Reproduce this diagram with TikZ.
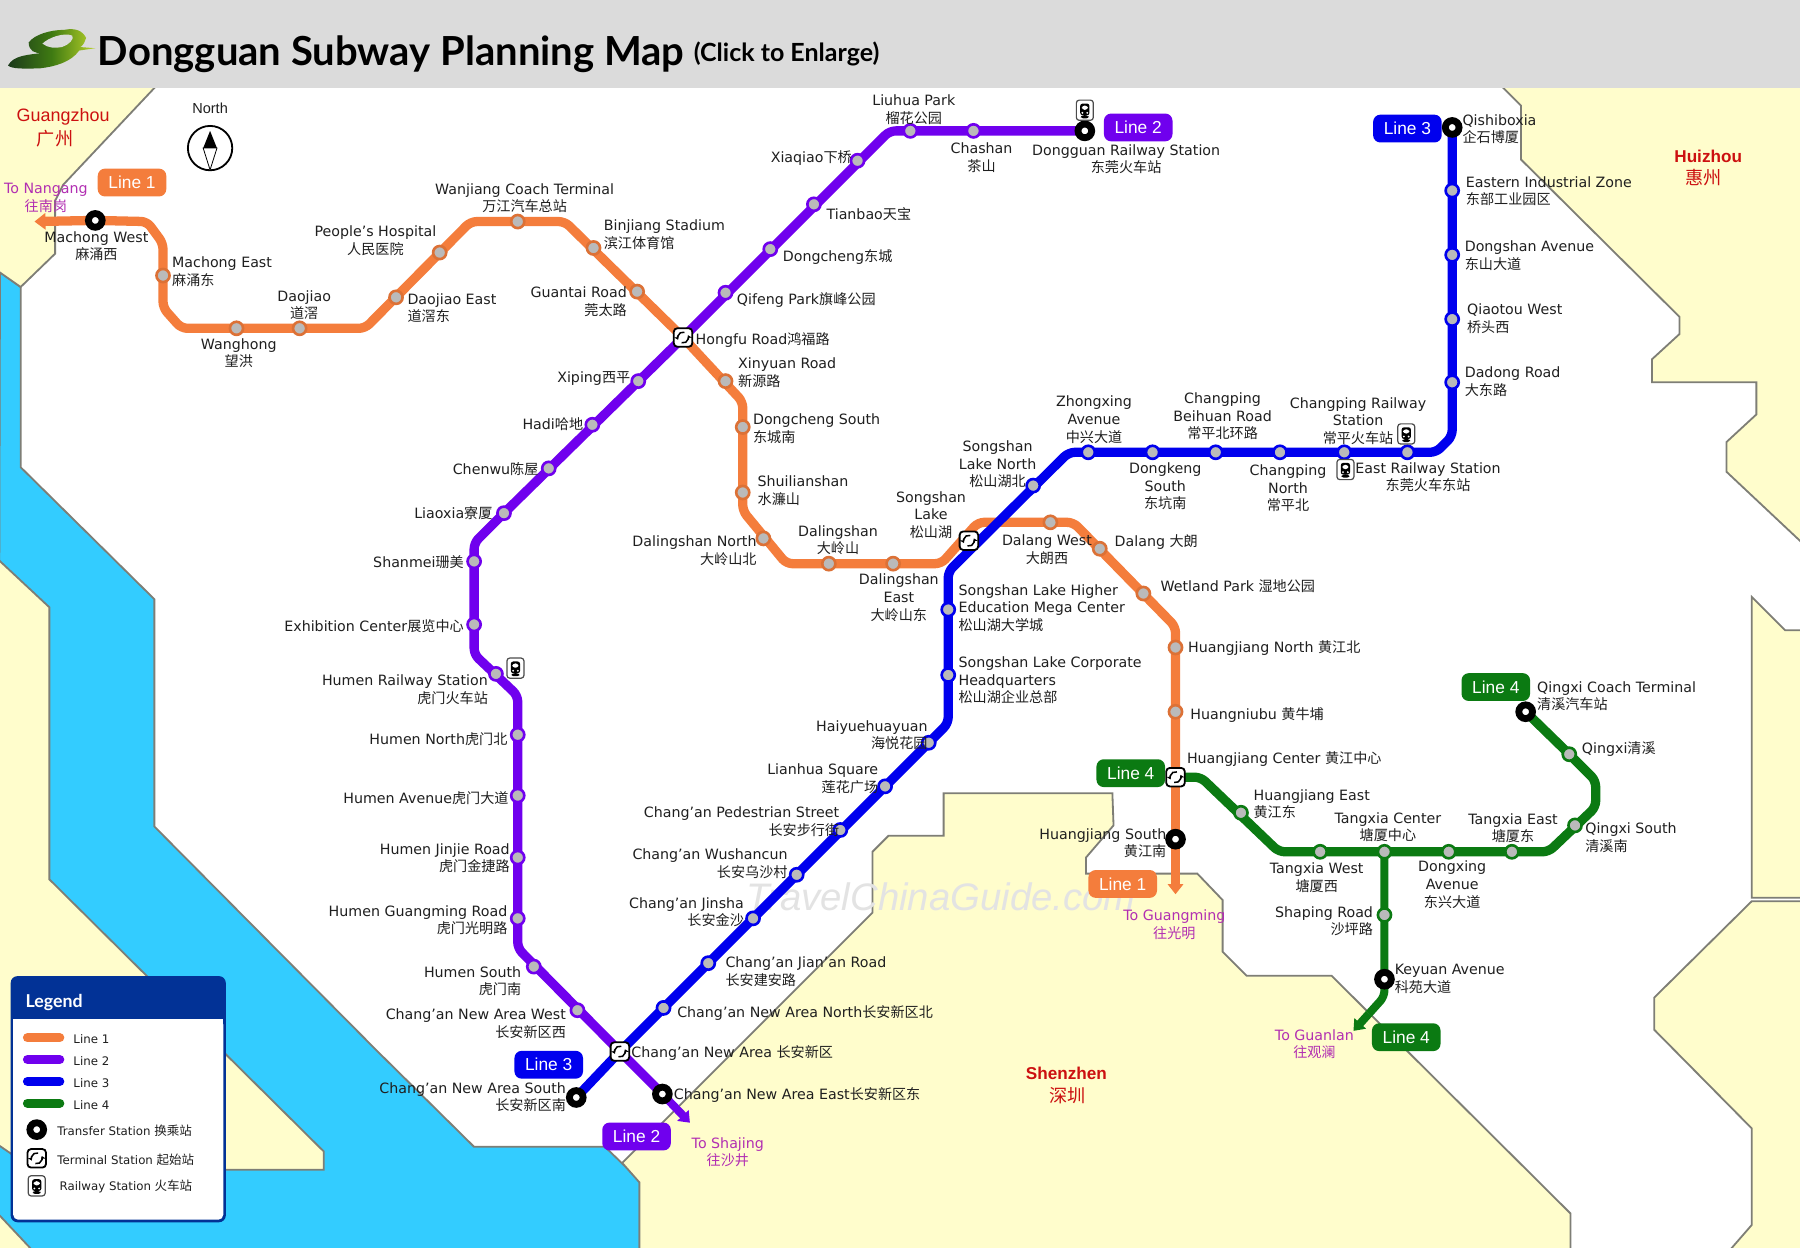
\documentclass[tikz,border=0pt]{standalone}
\usepackage{fontspec}
\setmainfont{DejaVu Sans}
\newfontfamily\cjk{Noto Sans CJK SC}
\newfontfamily\lato{Lato}
\newfontfamily\arial{Liberation Sans}
\usetikzlibrary{arrows.meta,shapes.geometric,calc}
\pgfdeclarelayer{land}
\pgfdeclarelayer{lines}
\pgfsetlayers{land,lines,main}
\newcommand{\zh}[1]{{\cjk\fontsize{7}{8.7}\selectfont #1}}
\definecolor{cOrange}{HTML}{F47D3C}
\definecolor{cPurple}{HTML}{7000EE}
\definecolor{cBlue}{HTML}{0000EE}
\definecolor{cGreen}{HTML}{0B7A12}
\definecolor{cWater}{HTML}{33CCFF}
\definecolor{cLand}{HTML}{FFFDCC}
\definecolor{cEdge}{HTML}{7E7E76}
\definecolor{cPink}{HTML}{B22FB2}
\definecolor{cRed}{HTML}{CC1010}
\definecolor{cNavy}{HTML}{023296}
\definecolor{cLogoA}{HTML}{1B3A1B}
\definecolor{cLogoB}{HTML}{3F7A12}
\definecolor{cLogoC}{HTML}{B8D22A}
\tikzset{
  lb/.style={inner sep=0pt,outer sep=0pt,align=center,yshift=-0.9pt,text=black!88,font=\fontsize{7.05}{8.7}\selectfont},
  ll/.style={lb,anchor=west,align=left},
  lr/.style={lb,anchor=east,align=right},
  pinklb/.style={lb,text=cPink},
  region/.style={inner sep=0pt,align=center,text=cRed,font=\arial\bfseries\fontsize{8.5}{11}\selectfont},
  regionzh/.style={region,font=\cjk\fontsize{9}{11}\selectfont},
  pill/.style={rounded corners=3.6pt,minimum width=34pt,minimum height=13.8pt,inner sep=0pt,text=white,font=\arial\fontsize{8.6}{10}\selectfont},
  land/.style={fill=cLand,draw=cEdge,line width=0.9pt,line join=miter},
  route/.style={line width=4.6pt,rounded corners=3pt,line join=round},
  st/.style={circle,inner sep=0pt,minimum size=6.5pt,fill=black!27,line width=1.3pt},
  sto/.style={st,draw=cOrange!90!black},
  stp/.style={st,draw=cPurple},
  stb/.style={st,draw=cBlue},
  stg/.style={st,draw=cGreen},
  transfer/.style={circle,inner sep=0pt,minimum size=6.8pt,fill=white,draw=black,line width=3.4pt},
  term/.style={rectangle,rounded corners=1.8pt,minimum size=9.2pt,inner sep=0pt,fill=white,draw=black,line width=0.9pt,
    path picture={
      \coordinate (pc) at (path picture bounding box.center);
      \draw[black,line width=0.75pt,-{Stealth[length=2pt,width=2.6pt]}] ([shift={(75:2.7pt)}]pc) arc[start angle=75,end angle=205,radius=2.7pt];
      \draw[black,line width=0.75pt,-{Stealth[length=2pt,width=2.6pt]}] ([shift={(255:2.7pt)}]pc) arc[start angle=255,end angle=385,radius=2.7pt];
    }},
  rail/.style={rectangle,rounded corners=1.4pt,minimum width=8.4pt,minimum height=10pt,inner sep=0pt,fill=white,draw=black!70,line width=0.6pt,
    path picture={
      \coordinate (pc) at (path picture bounding box.center);
      \fill[black,rounded corners=1.2pt] ([shift={(-2.3pt,-2.5pt)}]pc) rectangle ([shift={(2.3pt,3.3pt)}]pc);
      \fill[black] ([shift={(-1.4pt,-2.4pt)}]pc) -- ([shift={(1.4pt,-2.4pt)}]pc) -- ([shift={(2.3pt,-4pt)}]pc) -- ([shift={(-2.3pt,-4pt)}]pc) -- cycle;
      \fill[white] ([shift={(-1.5pt,0.2pt)}]pc) rectangle ([shift={(1.5pt,2.3pt)}]pc);
      \fill[white] ([shift={(-1.2pt,-1.3pt)}]pc) circle (0.5pt);
      \fill[white] ([shift={(1.2pt,-1.3pt)}]pc) circle (0.5pt);
    }},
  legline/.style={line width=4.6pt,line cap=round},
  leglb/.style={lb,anchor=west,yshift=0.4pt,font=\fontsize{5.85}{7}\selectfont},
}
\newcommand{\lzh}[1]{{\cjk\fontsize{6.2}{7}\selectfont #1}}
\begin{document}
\begin{tikzpicture}[x=0.02cm,y=-0.02cm]
\useasboundingbox (0,0) rectangle (1568,1086.3);

% ---------- ground ----------
\begin{pgfonlayer}{land}
\fill[white] (0,0) rectangle (1568,1086.3);
% water
\fill[cWater,draw=cEdge,line width=0.9pt] (0,237) -- (18,250) -- (18,407) -- (134.5,522) -- (134.5,720) -- (328,915) -- (413,999) -- (527,999) -- (557,1028) -- (557,1090) -- (-2,1090) -- cycle;
% Guangzhou
\path[land] (-2,75) -- (136,75) -- (55,161) -- (48,175) -- (48,221) -- (18,250) -- (-2,236) -- cycle;
% west bank
\path[land] (-2,487) -- (43,529) -- (43,766) -- (282,1003) -- (282,1019) -- (30,1019) -- (-2,997) -- cycle;
\path[land] (-2,1057) -- (29,1090) -- (-2,1090) -- cycle;
% Shenzhen
\path[land] (822,691) -- (969,691) -- (970,719) -- (946,747) -- (946,761) -- (1043,761) -- (1065,784) -- (1065,829) -- (1086,850) -- (1160,850) -- (1368,1057) -- (1368,1090) -- (557,1090) -- (557,1030) -- (542,1013) -- (760,795) -- (760,742) -- (774,728) -- (822,728) -- cycle;
% Huizhou
\path[land] (1308,75) -- (1325,92) -- (1325,139) -- (1463,276) -- (1463,291) -- (1439,313) -- (1439,333) -- (1530,333) -- (1530,361) -- (1504,385) -- (1504,411) -- (1570,473) -- (1570,75) -- cycle;
\path[land] (1526,520) -- (1555,549) -- (1570,549) -- (1570,782) -- (1526,782) -- cycle;
\path[land] (1526,785) -- (1570,785) -- (1570,1090) -- (1506,1090) -- (1526,1067) -- (1526,983) -- (1441,897) -- (1441,869) -- cycle;
% title bar
\fill[black!14] (0,0) rectangle (1568,77);
% watermark
\node[inner sep=0pt,text=black!11,font=\arial\itshape\fontsize{19}{20}\selectfont] (mark) at (820,781) {TravelChinaGuide.com};
\end{pgfonlayer}

% ---------- title ----------
\path[left color=cLogoA,right color=cLogoC,middle color=cLogoB]
  (7,57) .. controls (12,48) and (24,48) .. (37,46) .. controls (30,47) and (25,44) .. (25,37) .. controls (30,30) and (44,26) .. (56,26) .. controls (66,24) and (72,27) .. (75,33) .. controls (74,36) and (73,39) .. (70,41) -- (83,42) -- (69,44) .. controls (62,54) and (48,58) .. (35,59.5) .. controls (20,60) and (10,60) .. (7,57) -- cycle;
\fill[black!14] (37,38) .. controls (42,33) and (55,28) .. (63,31) .. controls (65,34) and (60,39) .. (54,41) .. controls (48,42) and (42,42) .. (37,38) -- cycle;
\node[anchor=west,inner sep=0pt,text=black,font=\lato\bfseries\fontsize{19.85}{22}\selectfont] (title) at (85,47) {Dongguan Subway Planning Map};
\node[anchor=west,inner sep=0pt,text=black,font=\lato\fontsize{12.4}{13}\selectfont\bfseries] (subtitle) at (604,47) {(Click to Enlarge)};

% ---------- compass ----------
\node[lb,yshift=0pt,font=\arial\fontsize{7.2}{9}\selectfont] (north) at (183,93) {North};
\node[circle,draw=black,line width=0.9pt,minimum size=22pt,inner sep=0pt] (compass) at (183,129) {};
\fill[black] (183,114) -- (189,129) -- (177,129) -- cycle;
\draw[black,line width=0.4pt,fill=white] (177,129) -- (189,129) -- (183,148) -- cycle;

% ---------- regions ----------
\node[region,font=\arial\fontsize{8.9}{11}\selectfont] (gz) at (55,102) {Guangzhou};
\node[regionzh] (gzz) at (48,121) {广州};
\node[region] (hz) at (1488,136) {Huizhou};
\node[regionzh] (hzz) at (1484,155) {惠州};
\node[region] (sz) at (929,935) {Shenzhen};
\node[regionzh] (szz) at (930,954) {深圳};

% ---------- line 1 stations ----------
\node[transfer] (o1) at (83,192) {};
\node[sto] (o2) at (142,240) {};
\node[sto] (o3) at (206,286) {};
\node[sto] (o4) at (261,286) {};
\node[sto] (o5) at (345,259) {};
\node[sto] (o6) at (383,220) {};
\node[sto] (o7) at (451,193) {};
\node[sto] (o8) at (517,216) {};
\node[sto] (o9) at (555,254) {};
\node[term] (hongfu) at (595,294) {};
\node[sto] (o11) at (632,332) {};
\node[sto] (o12) at (647,372) {};
\node[sto] (o13) at (647,429) {};
\node[sto] (o14) at (665,469) {};
\node[sto] (o15) at (722,491) {};
\node[sto] (o16) at (778,491) {};
\node[term] (songshan) at (844,471) {};
\node[sto] (o18) at (915,455) {};
\node[sto] (o19) at (958,478) {};
\node[sto] (o20) at (996,517) {};
\node[sto] (o21) at (1024,564) {};
\node[sto] (o22) at (1024,620) {};
\node[term] (hjc) at (1024,677) {};
\node[transfer] (o24) at (1024,731) {};
% ---------- line 2 stations ----------
\node[transfer] (p1) at (945,114) {};
\node[stp] (p2) at (848,114) {};
\node[stp] (p3) at (793,114) {};
\node[stp] (p4) at (747,140) {};
\node[stp] (p5) at (709,178) {};
\node[stp] (p6) at (671,217) {};
\node[stp] (p7) at (632,255) {};
\node[stp] (p9) at (556,332) {};
\node[stp] (p10) at (516,370) {};
\node[stp] (p11) at (478,408) {};
\node[stp] (p12) at (439,447) {};
\node[stp] (p13) at (413,489) {};
\node[stp] (p14) at (413,544) {};
\node[stp] (p15) at (432,587) {};
\node[stp] (p16) at (451,640) {};
\node[stp] (p17) at (451,693) {};
\node[stp] (p18) at (451,747) {};
\node[stp] (p19) at (451,800) {};
\node[stp] (p20) at (465,842) {};
\node[stp] (p21) at (503,880) {};
\node[term] (canew) at (540,916) {};
\node[transfer] (p23) at (577,953) {};
% ---------- line 3 stations ----------
\node[transfer] (b1) at (1265,111) {};
\node[stb] (b2) at (1265,166) {};
\node[stb] (b3) at (1265,222) {};
\node[stb] (b4) at (1265,278) {};
\node[stb] (b5) at (1265,333) {};
\node[stb] (b6) at (1226,394) {};
\node[stb] (b7) at (1171,394) {};
\node[stb] (b8) at (1115,394) {};
\node[stb] (b9) at (1059,394) {};
\node[stb] (b10) at (1004,394) {};
\node[stb] (b11) at (948,394) {};
\node[stb] (b12) at (900,423) {};
\node[stb] (b14) at (826,531) {};
\node[stb] (b15) at (826,588) {};
\node[stb] (b16) at (809,647) {};
\node[stb] (b17) at (771,685) {};
\node[stb] (b18) at (732,723) {};
\node[stb] (b19) at (694,762) {};
\node[stb] (b20) at (656,800) {};
\node[stb] (b21) at (617,839) {};
\node[stb] (b22) at (578,878) {};
\node[transfer] (b24) at (502,956) {};
% ---------- line 4 stations ----------
\node[transfer] (g1) at (1329,620) {};
\node[stg] (g2) at (1367,657) {};
\node[stg] (g3) at (1372,719) {};
\node[stg] (g4) at (1317,742) {};
\node[stg] (g5) at (1262,742) {};
\node[stg] (g6) at (1206,742) {};
\node[stg] (g7) at (1150,742) {};
\node[stg] (g8) at (1081,708) {};
\node[stg] (g9) at (1206,797) {};
\node[transfer] (g10) at (1206,853) {};
% ---------- bends and line ends ----------
\coordinate (oEnd) at (30,193);
\coordinate (oB1) at (128,193);
\coordinate (oB2) at (142,212);
\coordinate (oB3) at (142,268);
\coordinate (oB4) at (158,286);
\coordinate (oB5) at (318,286);
\coordinate (oB6) at (410,193);
\coordinate (oB7) at (492,193);
\coordinate (oB8) at (647,350);
\coordinate (oB9) at (647,445);
\coordinate (oB10) at (685,491);
\coordinate (oB11) at (820,491);
\coordinate (oB12) at (852,455);
\coordinate (oB13) at (935,455);
\coordinate (oB14) at (1024,546);
\coordinate (oTip) at (1024,779);
\coordinate (pB1) at (775,114);
\coordinate (pB2) at (413,473);
\coordinate (pB3) at (413,570);
\coordinate (pB4) at (451,606);
\coordinate (pB5) at (451,826);
\coordinate (pTip) at (601,978);
\coordinate (bB1) at (1265,380);
\coordinate (bB2) at (1251,394);
\coordinate (bB3) at (931,394);
\coordinate (bB4) at (826,498);
\coordinate (bB5) at (826,630);
\coordinate (gB1) at (1046,677);
\coordinate (gB2) at (1114,742);
\coordinate (gB3) at (1349,742);
\coordinate (gB4) at (1390,703);
\coordinate (gB5) at (1390,680);
\coordinate (gB6) at (1206,868);
\coordinate (gTip) at (1179,898);

\begin{pgfonlayer}{lines}
\draw[route,cOrange,-{Triangle[length=5.5pt,width=8pt]}] (o1.center) -- (oEnd);
\draw[route,cOrange] (o1.center) -- (oB1) -- (oB2) -- (oB3) -- (oB4) -- (oB5) -- (oB6) -- (oB7) -- (hongfu.center) -- (oB8) -- (oB9) -- (oB10) -- (oB11) -- (oB12) -- (oB13) -- (oB14) -- (hjc.center);
\draw[line width=4pt,cOrange,-{Triangle[length=5pt,width=7.5pt]}] (hjc.center) -- (oTip);
\draw[route,cPurple] (p1.center) -- (pB1) -- (hongfu.center) -- (p12.center) -- (pB2) -- (pB3) -- (pB4) -- (pB5) -- (canew.center) -- (p23.center);
\draw[line width=4pt,cPurple,-{Triangle[length=5pt,width=7.5pt]}] (p23.center) -- (pTip);
\draw[route,cBlue] (b1.center) -- (bB1) -- (bB2) -- (bB3) -- (bB4) -- (bB5) -- (canew.center) -- (b24.center);
\draw[route,cGreen] (hjc.center) -- (gB1) -- (gB2) -- (gB3) -- (gB4) -- (gB5) -- (g2.center) -- (g1.center);
\draw[line width=4pt,cGreen,rounded corners=3pt] (g6.center) -- (gB6) -- ($(gB6)!0.5!(gTip)$);
\draw[line width=4pt,cGreen,-{Triangle[length=5pt,width=7.5pt]}] ($(gB6)!0.5!(gTip)$) -- (gTip);
\end{pgfonlayer}

% ---------- railway icons ----------
\node[rail] (r1) at (945,96) {};
\node[rail] (r2) at (449,582) {};
\node[rail] (r3) at (1225,378) {};
\node[rail] (r4) at (1172,409) {};

% ---------- line tags ----------
\node[pill,fill=cOrange] (t1a) at (115,159) {Line 1};
\node[pill,fill=cPurple] (t2a) at (991.5,111) {Line 2};
\node[pill,fill=cBlue] (t3a) at (1226,112) {Line 3};
\node[pill,fill=cBlue] (t3b) at (478,927.5) {Line 3};
\node[pill,fill=cPurple] (t2b) at (554.5,990) {Line 2};
\node[pill,fill=cGreen] (t4a) at (1303,598.5) {Line 4};
\node[pill,fill=cGreen] (t4b) at (985,673.5) {Line 4};
\node[pill,fill=cOrange] (t1b) at (978,770) {Line 1};
\node[pill,fill=cGreen] (t4c) at (1225,903.5) {Line 4};

% ---------- direction labels ----------
\node[pinklb] (d1) at (40,171) {To Nangang\\\zh{往南岗}};
\node[pinklb] (d2) at (1023,804) {To Guangming\\\zh{往光明}};
\node[pinklb] (d3) at (1145,908) {To Guanlan\\\zh{往观澜}};
\node[pinklb] (d4) at (634,1002) {To Shajing\\\zh{往沙井}};

% ---------- station labels, line 1 ----------
\node[lb] (n1) at (84,213) {Machong West\\\zh{麻涌西}};
\node[ll] (n2) at (150,235) {Machong East\\\zh{麻涌东}};
\node[lb] (n3) at (208,306) {Wanghong\\\zh{望洪}};
\node[lb] (n4) at (265,264) {Daojiao\\\zh{道滘}};
\node[ll] (n5) at (355,267) {Daojiao East\\\zh{道滘东}};
\node[lb] (n6) at (327,208) {People's Hospital\\\zh{人民医院}};
\node[lb] (n7) at (457,171) {Wanjiang Coach Terminal\\\zh{万江汽车总站}};
\node[ll] (n8) at (526,203) {Binjiang Stadium\\\zh{滨江体育馆}};
\node[lr] (n9) at (546,261) {Guantai Road\\\zh{莞太路}};
\node[ll] (n10) at (606,295) {Hongfu Road\zh{鸿福路}};
\node[ll] (n11) at (643,323) {Xinyuan Road\\\zh{新源路}};
\node[ll] (n12) at (656,372) {Dongcheng South\\\zh{东城南}};
\node[ll] (n13) at (660,426) {Shuilianshan\\\zh{水濂山}};
\node[lr] (n14) at (659,478) {Dalingshan North\\\zh{大岭山北}};
\node[lb] (n15) at (730,469) {Dalingshan\\\zh{大岭山}};
\node[lb] (n16) at (783,519) {Dalingshan\\East\\\zh{大岭山东}};
\node[lb] (n17) at (811,447) {Songshan\\Lake\\\zh{松山湖}};
\node[lb] (n18) at (912,477) {Dalang West\\\zh{大朗西}};
\node[ll] (n19) at (971,471) {Dalang \zh{大朗}};
\node[ll] (n20) at (1011,509) {Wetland Park \zh{湿地公园}};
\node[ll] (n21) at (1035,563) {Huangjiang North \zh{黄江北}};
\node[ll] (n22) at (1037,621) {Huangniubu \zh{黄牛埔}};
\node[ll] (n23) at (1034,660) {Huangjiang Center \zh{黄江中心}};
\node[lr] (n24) at (1016,733) {Huangjiang South\\\zh{黄江南}};
% line 2
\node[lb] (m1) at (981,137) {Dongguan Railway Station\\\zh{东莞火车站}};
\node[lb] (m2) at (855,136) {Chashan\\\zh{茶山}};
\node[lb] (m3) at (796,94) {Liuhua Park\\\zh{榴花公园}};
\node[lr] (m4) at (742,136) {Xiaqiao\zh{下桥}};
\node[ll] (m5) at (720,185) {Tianbao\zh{天宝}};
\node[ll] (m6) at (682,222) {Dongcheng\zh{东城}};
\node[ll] (m7) at (642,260) {Qifeng Park\zh{旗峰公园}};
\node[lr] (m9) at (549,328) {Xiping\zh{西平}};
\node[lr] (m10) at (508,368) {Hadi\zh{哈地}};
\node[lr] (m11) at (469,407) {Chenwu\zh{陈屋}};
\node[lr] (m12) at (429,445) {Liaoxia\zh{寮厦}};
\node[lr] (m13) at (404,488) {Shanmei\zh{珊美}};
\node[lr] (m14) at (404,544) {Exhibition Center\zh{展览中心}};
\node[lr] (m15) at (425,599) {Humen Railway Station\\\zh{虎门火车站}};
\node[lr] (m16) at (442,642) {Humen North\zh{虎门北}};
\node[lr] (m17) at (443,694) {Humen Avenue\zh{虎门大道}};
\node[lr] (m18) at (444,746) {Humen Jinjie Road\\\zh{虎门金捷路}};
\node[lr] (m19) at (442,800) {Humen Guangming Road\\\zh{虎门光明路}};
\node[lr] (m20) at (454,853) {Humen South\\\zh{虎门南}};
\node[lr] (m21) at (493,890) {Chang'an New Area West\\\zh{长安新区西}};
\node[ll] (m22) at (550,916) {Chang'an New Area \zh{长安新区}};
\node[ll] (m23) at (587,952) {Chang'an New Area East\zh{长安新区东}};
% line 3
\node[ll] (k1) at (1274,111) {Qishiboxia\\\zh{企石博厦}};
\node[ll] (k2) at (1277,165) {Eastern Industrial Zone\\\zh{东部工业园区}};
\node[ll] (k3) at (1276,221) {Dongshan Avenue\\\zh{东山大道}};
\node[ll] (k4) at (1278,276) {Qiaotou West\\\zh{桥头西}};
\node[ll] (k5) at (1276,331) {Dadong Road\\\zh{大东路}};
\node[lb] (k6) at (1244,414) {East Railway Station\\\zh{东莞火车东站}};
\node[lb] (k7) at (1183,365) {Changping Railway\\Station\\\zh{常平火车站}};
\node[lb] (k8) at (1122,424) {Changping\\North\\\zh{常平北}};
\node[lb] (k9) at (1065,361) {Changping\\Beihuan Road\\\zh{常平北环路}};
\node[lb] (k10) at (1015,422) {Dongkeng\\South\\\zh{东坑南}};
\node[lb] (k11) at (953,364) {Zhongxing\\Avenue\\\zh{中兴大道}};
\node[lb] (k12) at (869,403) {Songshan\\Lake North\\\zh{松山湖北}};
\node[ll] (k14) at (835,528) {Songshan Lake Higher\\Education Mega Center\\\zh{松山湖大学城}};
\node[ll] (k15) at (835,591) {Songshan Lake Corporate\\Headquarters\\\zh{松山湖企业总部}};
\node[lr] (k16) at (808,639) {Haiyuehuayuan\\\zh{海悦花园}};
\node[lr] (k17) at (765,677) {Lianhua Square\\\zh{莲花广场}};
\node[lr] (k18) at (731,714) {Chang'an Pedestrian Street\\\zh{长安步行街}};
\node[lr] (k19) at (686,751) {Chang'an Wushancun\\\zh{长安乌沙村}};
\node[lr] (k20) at (648,793) {Chang'an Jinsha\\\zh{长安金沙}};
\node[ll] (k21) at (632,845) {Chang'an Jian'an Road\\\zh{长安建安路}};
\node[ll] (k22) at (590,881) {Chang'an New Area North\zh{长安新区北}};
\node[lr] (k24) at (493,954) {Chang'an New Area South\\\zh{长安新区南}};
% line 4
\node[ll] (h1) at (1339,605) {Qingxi Coach Terminal\\\zh{清溪汽车站}};
\node[ll] (h2) at (1378,651) {Qingxi\zh{清溪}};
\node[ll] (h3) at (1381,728) {Qingxi South\\\zh{清溪南}};
\node[lb] (h4) at (1318,720) {Tangxia East\\\zh{塘厦东}};
\node[lb] (h5) at (1265,769) {Dongxing\\Avenue\\\zh{东兴大道}};
\node[lb] (h6) at (1209,719) {Tangxia Center\\\zh{塘厦中心}};
\node[lb] (h7) at (1147,763) {Tangxia West\\\zh{塘厦西}};
\node[ll] (h8) at (1092,699) {Huangjiang East\\\zh{黄江东}};
\node[lr] (h9) at (1196,801) {Shaping Road\\\zh{沙坪路}};
\node[ll] (h10) at (1215,851) {Keyuan Avenue\\\zh{科苑大道}};

% ---------- legend ----------
\path[fill=cNavy,draw=cNavy,line width=0.8pt,rounded corners=3pt] (10,851) rectangle (196,1064);
\fill[white,rounded corners=2.5pt] (11.5,888) rectangle (194.5,1062.5);
\fill[white] (11.5,888) rectangle (194.5,900);
\node[anchor=west,inner sep=0pt,text=white,font=\lato\bfseries\fontsize{8.8}{10}\selectfont] (legtitle) at (22,873) {Legend};
\coordinate (la1) at (24,904); \coordinate (la2) at (52,904);
\coordinate (lb1) at (24,923); \coordinate (lb2) at (52,923);
\coordinate (lc1) at (24,942); \coordinate (lc2) at (52,942);
\coordinate (ld1) at (24,961); \coordinate (ld2) at (52,961);
\draw[legline,cOrange] (la1) -- (la2);
\draw[legline,cPurple] (lb1) -- (lb2);
\draw[legline,cBlue] (lc1) -- (lc2);
\draw[legline,cGreen] (ld1) -- (ld2);
\node[leglb] (le1) at (64,904.5) {Line 1};
\node[leglb] (le2) at (64,923.5) {Line 2};
\node[leglb] (le3) at (64,942.5) {Line 3};
\node[leglb] (le4) at (64,961.5) {Line 4};
\node[transfer] (ls1) at (32,984) {};
\node[term] (ls2) at (32,1009) {};
\node[rail] (ls3) at (32,1033) {};
\node[leglb] (le5) at (50,984) {Transfer Station \lzh{换乘站}};
\node[leglb] (le6) at (50,1009) {Terminal Station \lzh{起始站}};
\node[leglb] (le7) at (52,1033) {Railway Station \lzh{火车站}};
\end{tikzpicture}
\end{document}
